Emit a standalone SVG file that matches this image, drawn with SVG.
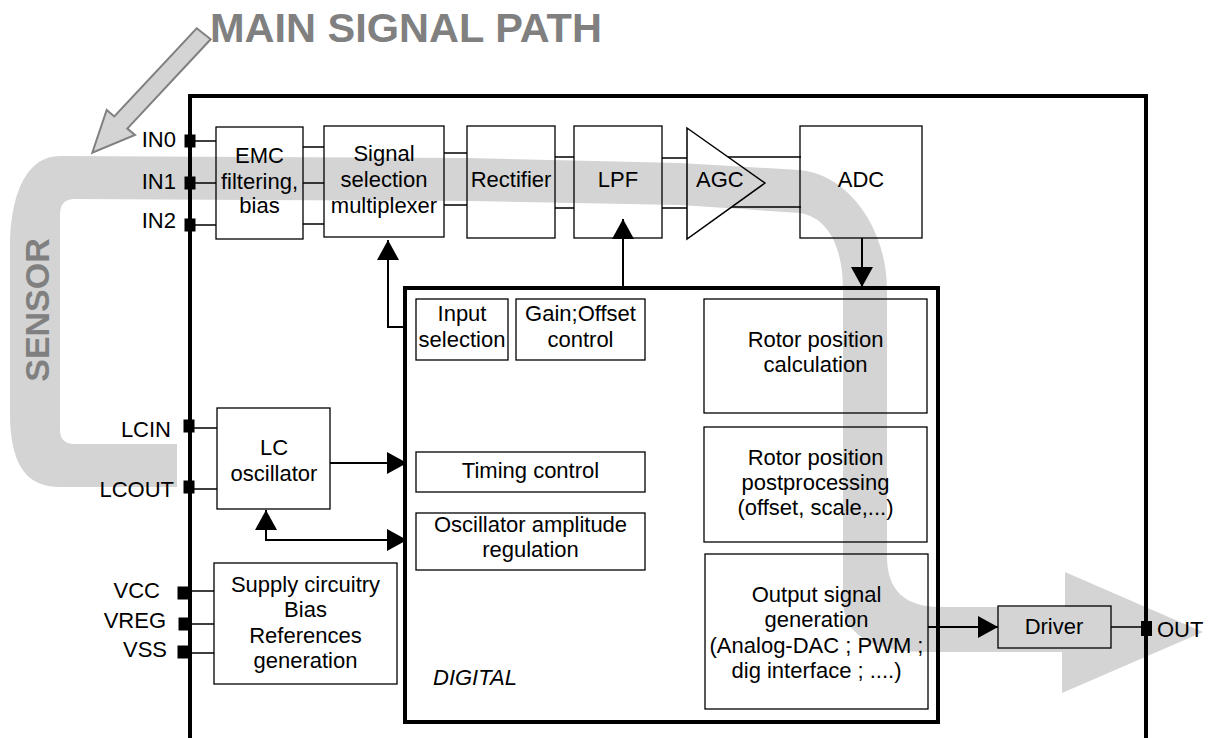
<svg xmlns="http://www.w3.org/2000/svg" width="1216" height="738" viewBox="0 0 1216 738">
<style>
text{font-family:"Liberation Sans",Arial,sans-serif;font-size:22px;fill:#000}
.pin{text-anchor:end}
.c{text-anchor:middle}
.big{font-weight:bold;fill:#808080}
.title{font-size:41.5px}
.sensor{font-size:34px}
.it{font-style:italic}
.box{fill:none;stroke:#000;stroke-width:1.3}
.stub{fill:none;stroke:#000;stroke-width:1.5}
.wire{fill:none;stroke:#000;stroke-width:2}
.pad{fill:#000}
</style>
<defs>
<marker id="ah" markerUnits="userSpaceOnUse" viewBox="0 0 20 22" markerWidth="20" markerHeight="22" refX="20" refY="11" orient="auto-start-reverse">
<path d="M0,0 L20,11 L0,22 z" fill="#000"/>
</marker>
</defs>
<rect width="1216" height="738" fill="#fff"/>

<g id="signal-path">
<path d="M177,444 H75 Q60,444 60,430 V214 Q60,199 75,199 L470,201 L680,205 L800,213 C830,218 843,250 843,290 V600 C843,640 880,652 930,652 H1062 L1062,693 L1203,632 L1065,572 L1065,607 H940 C905,607 887,590 887,557 V290 C887,230 850,175 800,170 L680,163 L470,158 L60,156 C28,156 12,190 10,240 V420 C12,470 30,487 60,487 H177 Z" fill="#d4d4d4"/>
<polygon points="196.7,28.3 210.7,39.3 127.3,128.6 135,135 92.3,152.7 106.7,110 114.3,116.4" fill="#d4d4d4" stroke="#808080" stroke-width="2" stroke-linejoin="miter"/>
<text class="big title" x="210" y="42">MAIN SIGNAL PATH</text>
<text class="big sensor c" transform="translate(49,310) rotate(-90)">SENSOR</text>
</g>

<g id="chip">
<path d="M190,738 V96 H1146 V738" fill="none" stroke="#000" stroke-width="4"/>
</g>

<g id="pins">
<rect class="pad" x="184.5" y="134.5" width="11" height="13"/>
<rect class="pad" x="184.5" y="176.5" width="11" height="13"/>
<rect class="pad" x="184.5" y="218.5" width="11" height="13"/>
<rect class="pad" x="183.5" y="419.5" width="11" height="13"/>
<rect class="pad" x="183.5" y="480.5" width="11" height="13"/>
<rect class="pad" x="177.5" y="586.5" width="12" height="13"/>
<rect class="pad" x="178.5" y="617.5" width="11" height="13"/>
<rect class="pad" x="177.5" y="645.5" width="12" height="13"/>
<rect class="pad" x="1141" y="621" width="11" height="15"/>
<text class="pin" x="176" y="147">IN0</text>
<text class="pin" x="176" y="189">IN1</text>
<text class="pin" x="176" y="228">IN2</text>
<text class="pin" x="171" y="437">LCIN</text>
<text class="pin" x="174" y="497">LCOUT</text>
<text class="pin" x="160" y="598">VCC</text>
<text class="pin" x="166" y="628">VREG</text>
<text class="pin" x="167" y="657">VSS</text>
<text x="1157" y="637">OUT</text>
</g>

<g id="emc">
<rect class="box" x="216" y="127" width="87" height="112"/>
<text class="c" x="259.5" y="163">EMC</text>
<text class="c" x="259.5" y="189">filtering,</text>
<text class="c" x="259.5" y="213">bias</text>
</g>
<g id="mux">
<rect class="box" x="324" y="126" width="120" height="111"/>
<text class="c" x="384" y="161">Signal</text>
<text class="c" x="384" y="187">selection</text>
<text class="c" x="384" y="213">multiplexer</text>
</g>
<g id="rectifier">
<rect class="box" x="467" y="126" width="88" height="112"/>
<text class="c" x="511" y="187">Rectifier</text>
</g>
<g id="lpf">
<rect class="box" x="574" y="126" width="88" height="112"/>
<text class="c" x="618" y="187">LPF</text>
</g>
<g id="agc">
<polygon class="stub" points="687,128 765,183 687,239"/>
<text x="696" y="187">AGC</text>
</g>
<g id="adc">
<rect class="box" x="800" y="126" width="122" height="112"/>
<text class="c" x="861" y="187">ADC</text>
</g>
<g id="lc-oscillator">
<rect class="box" x="217" y="408" width="113" height="101"/>
<text class="c" x="274" y="455">LC</text>
<text class="c" x="274" y="481">oscillator</text>
</g>
<g id="supply">
<rect class="box" x="214" y="563" width="183" height="121"/>
<text class="c" x="305.5" y="592">Supply circuitry</text>
<text class="c" x="305.5" y="617">Bias</text>
<text class="c" x="305.5" y="643">References</text>
<text class="c" x="305.5" y="668">generation</text>
</g>

<g id="digital">
<rect x="405" y="288" width="533" height="434" fill="none" stroke="#000" stroke-width="4"/>
<text class="it" x="433" y="685">DIGITAL</text>
</g>
<g id="input-selection">
<rect class="box" x="416" y="299" width="92" height="61"/>
<text class="c" x="462" y="321">Input</text>
<text class="c" x="462" y="347">selection</text>
</g>
<g id="gain-offset">
<rect class="box" x="516" y="299" width="129" height="61"/>
<text class="c" x="580.5" y="321">Gain;Offset</text>
<text class="c" x="580.5" y="347">control</text>
</g>
<g id="timing-control">
<rect class="box" x="416" y="452" width="229" height="40"/>
<text class="c" x="530.5" y="478">Timing control</text>
</g>
<g id="osc-amplitude">
<rect class="box" x="416" y="513" width="229" height="57"/>
<text class="c" x="530.5" y="532">Oscillator amplitude</text>
<text class="c" x="530.5" y="557">regulation</text>
</g>
<g id="rotor-calc">
<rect class="box" x="704" y="299" width="223" height="114"/>
<text class="c" x="815.5" y="347">Rotor position</text>
<text class="c" x="815.5" y="372">calculation</text>
</g>
<g id="rotor-post">
<rect class="box" x="704" y="427" width="223" height="115"/>
<text class="c" x="815.5" y="465">Rotor position</text>
<text class="c" x="815.5" y="490">postprocessing</text>
<text class="c" x="815.5" y="515">(offset, scale,...)</text>
</g>
<g id="output-gen">
<rect class="box" x="705" y="554" width="223" height="155"/>
<text class="c" x="816.5" y="602">Output signal</text>
<text class="c" x="816.5" y="627">generation</text>
<text class="c" x="816.5" y="653">(Analog-DAC ; PWM ;</text>
<text class="c" x="816.5" y="678">dig interface ; ....)</text>
</g>
<g id="driver">
<rect class="box" x="998" y="606" width="113" height="42"/>
<text class="c" x="1054" y="634">Driver</text>
</g>

<g id="connectors">
<path class="stub" d="M190,141 H216 M190,183 H216 M190,225 H216"/>
<path class="stub" d="M303,147 H324 M303,183 H324 M303,224 H324"/>
<path class="stub" d="M444,153 H467 M444,205 H467"/>
<path class="stub" d="M555,157 H574 M555,208 H574"/>
<path class="stub" d="M662,158 H687 M662,208 H687"/>
<path class="stub" d="M728,157 H801 M732,207 H801"/>
<path class="stub" d="M190,428 H217 M190,489 H217"/>
<path class="stub" d="M190,591 H214 M190,624 H214 M190,653 H214"/>
<path class="wire" d="M405,327 H388 V240" marker-end="url(#ah)"/>
<path class="wire" d="M623,288 V219" marker-end="url(#ah)"/>
<path class="wire" d="M862,238 V287" marker-end="url(#ah)"/>
<path class="wire" d="M330,463 H407" marker-end="url(#ah)"/>
<path class="wire" d="M407,540 H266 V510" marker-start="url(#ah)" marker-end="url(#ah)"/>
<path class="wire" d="M928,627 H998" marker-end="url(#ah)"/>
<path class="stub" d="M1111,627 H1146"/>
</g>
</svg>
